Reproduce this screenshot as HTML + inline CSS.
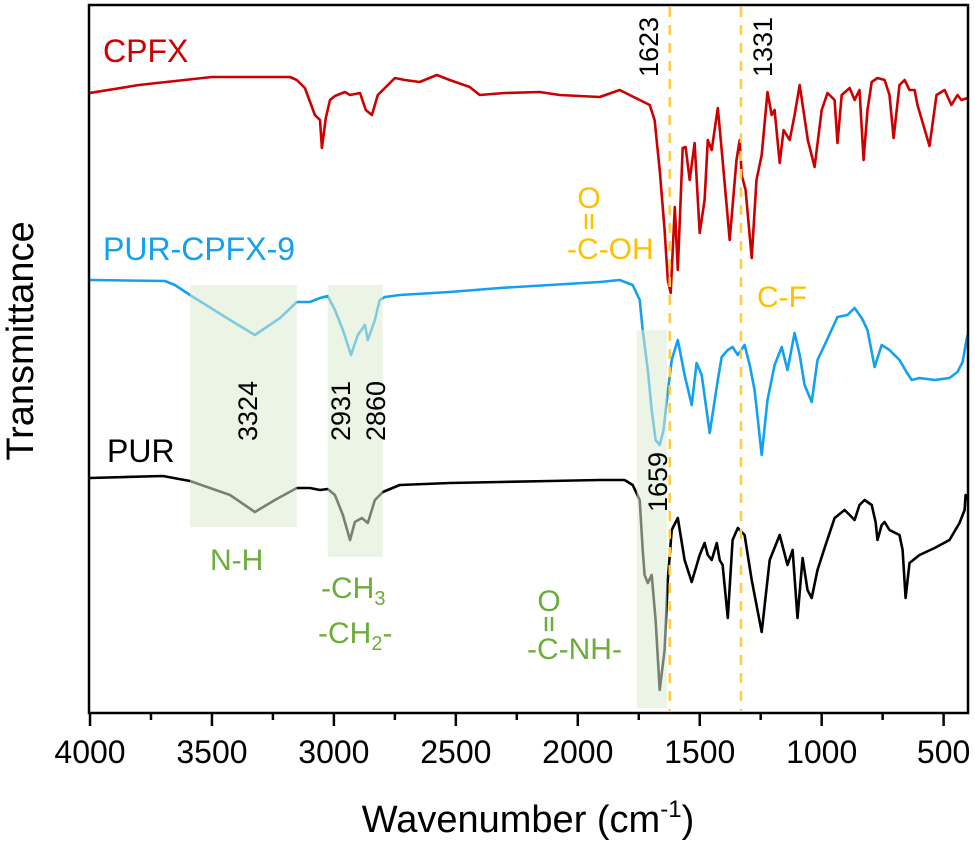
<!DOCTYPE html>
<html><head><meta charset="utf-8"><style>
html,body{margin:0;padding:0;background:#fff;}
svg{display:block;font-family:"Liberation Sans",Arial,sans-serif;}
</style></head><body>
<svg id="chart" width="975" height="841" viewBox="0 0 975 841">
<defs><clipPath id="plotclip"><rect x="90" y="5" width="878" height="708"/></clipPath></defs>
<g id="series" clip-path="url(#plotclip)"></g>
<g id="boxes" clip-path="url(#plotclip)"></g>
<g id="refs"></g>
<g id="axes"></g>
<g id="labels">
  <text x="103" y="62" font-size="32" fill="#cc0000">CPFX</text>
  <text x="103" y="260" font-size="32" fill="#12a0f0">PUR-CPFX-9</text>
  <text x="107" y="462" font-size="32" fill="#000">PUR</text>
  <text transform="translate(257,441) rotate(-90)" font-size="27">3324</text>
  <text transform="translate(350,441) rotate(-90)" font-size="27">2931</text>
  <text transform="translate(385,441) rotate(-90)" font-size="27">2860</text>
  <text transform="translate(658,77) rotate(-90)" font-size="27">1623</text>
  <text transform="translate(772,77) rotate(-90)" font-size="27">1331</text>
  <text transform="translate(667,512) rotate(-90)" font-size="27">1659</text>
  <g fill="#ffc000" font-size="30">
    <text x="589" y="208" text-anchor="middle">O</text>
    <line x1="586" y1="214" x2="586" y2="229" stroke="#ffc000" stroke-width="2.5"/>
    <line x1="592" y1="214" x2="592" y2="229" stroke="#ffc000" stroke-width="2.5"/>
    <text x="567" y="259">-C-OH</text>
  </g>
  <text x="757" y="307" font-size="30" fill="#ffc000">C-F</text>
  <g fill="#6aae3a" font-size="30">
    <text x="210" y="570">N-H</text>
    <text x="321" y="598">-CH<tspan font-size="20" dy="7">3</tspan></text>
    <text x="318" y="643">-CH<tspan font-size="20" dy="7">2</tspan><tspan dy="-7">-</tspan></text>
    <text x="549" y="611" text-anchor="middle">O</text>
    <line x1="546" y1="617" x2="546" y2="631" stroke="#6aae3a" stroke-width="2.5"/>
    <line x1="552" y1="617" x2="552" y2="631" stroke="#6aae3a" stroke-width="2.5"/>
    <text x="527" y="659">-C-NH-</text>
  </g>
  <text x="528" y="832" font-size="38" text-anchor="middle">Wavenumber (cm<tspan font-size="24" dy="-15">-1</tspan><tspan dy="15">)</tspan></text>
  <text transform="translate(33,341) rotate(-90)" font-size="38" text-anchor="middle">Transmittance</text>
</g>
</svg>
<script>
const xTicks = [4000, 3500, 3000, 2500, 2000, 1500, 1000, 500];
const xMinorTicks = [3750, 3250, 2750, 2250, 1750, 1250, 750];
const refLines = [1623, 1331];
const wnCPFX = [4000,3800,3500,3180,3152,3119,3078,3057,3049,3033,3016,2996,2955,2934,2893,2869,2844,2820,2791,2750,2709,2648,2578,2525,2443,2402,2300,2156,2074,1910,1828,1746,1705,1685,1664,1644,1631,1619,1602,1590,1570,1558,1541,1521,1500,1480,1467,1451,1426,1410,1377,1349,1336,1328,1312,1287,1267,1246,1222,1205,1193,1172,1156,1131,1111,1090,1057,1029,1000,976,947,935,918,885,865,845,828,812,795,771,742,722,705,681,660,640,619,607,558,529,496,468,443,427,402];
const tCPFX = [620,628,636,636,633,625,598,593,565,595,613,617,621,618,620,603,598,618,625,635,633,631,638,633,626,618,620,621,618,616,623,613,608,593,543,483,433,420,506,443,565,566,533,570,480,513,573,563,605,563,473,553,573,538,523,455,533,558,621,598,603,550,583,573,598,628,573,546,603,620,613,570,618,625,613,623,553,603,631,635,633,618,575,628,633,623,623,608,567,618,623,608,618,613,615];
const wnPURCPFX = [4000,3693,3652,3590,3426,3324,3221,3152,3098,3057,3025,2996,2963,2930,2902,2873,2861,2832,2812,2791,2730,2525,2320,2115,1910,1828,1775,1746,1734,1713,1697,1681,1664,1648,1635,1615,1590,1562,1533,1513,1492,1459,1426,1410,1385,1365,1344,1316,1295,1275,1246,1222,1193,1164,1140,1111,1090,1070,1041,1017,988,935,894,865,836,812,783,754,722,681,652,631,599,537,476,443,422,410,402];
const tPURCPFX = [433,432,428,418,393,378,395,411,411,415,417,403,383,358,378,388,373,393,413,416,418,421,425,428,431,433,428,413,383,343,303,273,268,283,313,353,373,338,308,350,338,280,333,356,363,366,358,368,348,323,258,313,348,366,343,380,358,328,311,353,368,396,398,405,395,383,346,368,363,353,341,333,335,333,335,341,351,368,378];
const wnPUR = [4000,3701,3590,3426,3324,3242,3152,3098,3057,3025,2996,2963,2934,2914,2885,2861,2832,2799,2730,2525,2320,2115,1910,1808,1775,1746,1734,1726,1713,1697,1681,1664,1644,1631,1615,1590,1562,1533,1500,1480,1467,1451,1430,1418,1406,1385,1365,1344,1316,1287,1246,1213,1172,1140,1119,1099,1078,1058,1041,1017,988,947,906,885,865,845,824,795,779,771,754,742,722,681,668,656,640,599,537,476,435,414,410,402];
const tPUR = [235,237,232,218,201,213,225,225,223,224,218,198,173,191,195,190,213,221,228,230,231,232,233,233,228,213,163,138,130,138,93,23,63,133,183,195,153,131,158,170,158,153,170,153,148,95,173,185,178,133,81,153,178,148,163,95,155,123,115,143,165,195,203,198,193,208,213,208,191,173,188,191,183,178,163,115,150,158,165,173,190,203,218,213];
const boxRanges = [[3590, 3152], [3025, 2800], [1758, 1635]];

const NS = 'http://www.w3.org/2000/svg';
const X0 = 90, X1 = 968, Y0 = 713, Y1 = 5;
const xScale = w => X0 + (4000 - w) / 3600 * (X1 - X0);
const yScale = t => Y0 - t / 708 * (Y0 - Y1);
function mk(tag, attrs, parent) {
  const e = document.createElementNS(NS, tag);
  for (const k in attrs) e.setAttribute(k, attrs[k]);
  parent.appendChild(e);
  return e;
}
const series = document.getElementById('series');
function drawSeries(wn, t, color, name) {
  let d = '';
  for (let i = 0; i < wn.length; i++) d += (i ? 'L' : 'M') + xScale(wn[i]).toFixed(1) + ',' + yScale(t[i]).toFixed(1);
  const p = mk('path', {d: d, fill: 'none', stroke: color, 'stroke-width': 2.6, 'stroke-linejoin': 'round'}, series);
  
  
}
drawSeries(wnCPFX, tCPFX, '#cc0000', 'cpfx-spectrum');
drawSeries(wnPURCPFX, tPURCPFX, '#12a0f0', 'pur-cpfx-9-spectrum');
drawSeries(wnPUR, tPUR, '#000000', 'pur-spectrum');

const boxes = document.getElementById('boxes');
const boxTops = [285, 285, 330], boxBottoms = [527, 557, 708];
boxRanges.forEach((r, i) => {
  const a = xScale(r[0]), b = xScale(r[1]);
  const rc = mk('rect', {x: a, y: boxTops[i], width: b - a, height: boxBottoms[i] - boxTops[i], fill: '#dcecd0', opacity: 0.55}, boxes);
  
  
});

const refs = document.getElementById('refs');
refLines.forEach(w => {
  const l = mk('line', {x1: xScale(w), x2: xScale(w), y1: Y1 + 2, y2: Y0 - 2, stroke: '#ffcc44', 'stroke-width': 2.5, 'stroke-dasharray': '10 8'}, refs);
  
  
});

const axes = document.getElementById('axes');
const frame = mk('rect', {x: X0 - 1, y: Y1, width: X1 - X0 + 1, height: Y0 - Y1, fill: 'none', stroke: '#000', 'stroke-width': 2.5}, axes);


xTicks.forEach(w => {
  const x = xScale(w);
  const tk = mk('line', {x1: x, x2: x, y1: Y0, y2: Y0 + 13, stroke: '#000', 'stroke-width': 2.5}, axes);
  
  
  const tx = mk('text', {x: x, y: 763, 'font-size': 32, 'text-anchor': 'middle'}, axes);
  tx.textContent = w;
  
  
});
xMinorTicks.forEach(w => {
  const x = xScale(w);
  const tk = mk('line', {x1: x, x2: x, y1: Y0, y2: Y0 + 7, stroke: '#000', 'stroke-width': 2.5}, axes);
  
  
});
</script>
</body></html>
